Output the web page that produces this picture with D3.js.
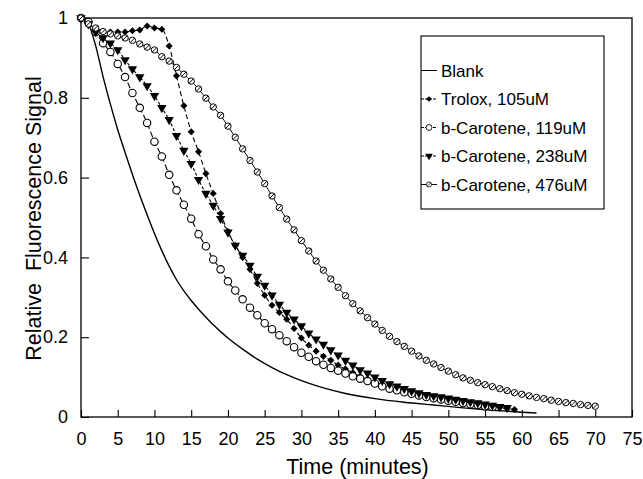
<!DOCTYPE html>
<html>
<head>
<meta charset="utf-8">
<script src="https://cdn.jsdelivr.net/npm/d3@7"></script>
<style>
  body { margin: 0; background: #fff; }
  svg { display: block; font-family: "Liberation Sans", Arial, sans-serif; }
</style>
</head>
<body>
<svg id="chart" width="643" height="479"></svg>
<script>
// ---- data ----
const xTicks = [0, 5, 10, 15, 20, 25, 30, 35, 40, 45, 50, 55, 60, 65, 70, 75];
const yTicks = [0, 0.2, 0.4, 0.6, 0.8, 1];
const yTickLabels = ['0', '0.2', '0.4', '0.6', '0.8', '1'];

// blank: continuous trace, irregular sampling (minutes)
const blankT = [0, 1, 2, 3, 4, 5, 6, 7, 8, 9, 10, 11, 12, 13, 14, 15, 16, 17, 18, 19, 20, 22, 24, 26, 28, 30, 33, 36, 40, 44, 48, 52, 56, 60, 62];
const blankV = [1, 0.985, 0.93, 0.853, 0.784, 0.72, 0.663, 0.608, 0.556, 0.507, 0.46, 0.417, 0.378, 0.344, 0.316, 0.292, 0.27, 0.25, 0.231, 0.214, 0.198, 0.17, 0.145, 0.124, 0.106, 0.091, 0.073, 0.059, 0.046, 0.037, 0.03, 0.023, 0.017, 0.012, 0.01];

// the other traces are sampled once a minute from t = 0
const troloxV = [1, 0.985, 0.97, 0.965, 0.965, 0.965, 0.965, 0.968, 0.97, 0.98, 0.975, 0.972,
  0.93, 0.855, 0.78, 0.715, 0.665, 0.61, 0.56, 0.51, 0.465, 0.43, 0.4, 0.37, 0.335, 0.305, 0.28, 0.262,
  0.245, 0.222, 0.198, 0.18, 0.165, 0.152, 0.142, 0.13, 0.12, 0.111, 0.102, 0.094, 0.087, 0.08, 0.074,
  0.068, 0.063, 0.057, 0.053, 0.049, 0.045, 0.042, 0.039, 0.037, 0.035, 0.033, 0.031, 0.029, 0.027,
  0.024, 0.021, 0.019];
const caro119V = [1, 0.99, 0.965, 0.937, 0.915, 0.885, 0.852, 0.812, 0.775, 0.737, 0.69, 0.653, 0.607,
  0.568, 0.532, 0.497, 0.458, 0.428, 0.395, 0.37, 0.34, 0.317, 0.295, 0.274, 0.255, 0.235, 0.22, 0.205,
  0.19, 0.175, 0.161, 0.151, 0.14, 0.131, 0.123, 0.116, 0.109, 0.102, 0.096, 0.09, 0.084, 0.077, 0.071,
  0.067, 0.062, 0.058, 0.054, 0.05, 0.047, 0.044, 0.041, 0.038, 0.035, 0.032, 0.03, 0.027, 0.025];
const caro238V = [1, 0.985, 0.965, 0.95, 0.937, 0.92, 0.895, 0.872, 0.852, 0.83, 0.805, 0.775, 0.745,
  0.705, 0.668, 0.635, 0.595, 0.56, 0.53, 0.497, 0.463, 0.43, 0.405, 0.38, 0.352, 0.33, 0.305, 0.282,
  0.262, 0.245, 0.228, 0.21, 0.195, 0.182, 0.168, 0.155, 0.142, 0.13, 0.118, 0.11, 0.1, 0.091, 0.083,
  0.077, 0.071, 0.065, 0.06, 0.056, 0.053, 0.05, 0.047, 0.044, 0.041, 0.038, 0.035, 0.032, 0.029,
  0.026, 0.023];
const caro476V = [1, 0.985, 0.975, 0.966, 0.96, 0.955, 0.95, 0.944, 0.935, 0.927, 0.92, 0.903, 0.892,
  0.876, 0.859, 0.842, 0.822, 0.799, 0.777, 0.756, 0.729, 0.701, 0.672, 0.643, 0.614, 0.585, 0.554,
  0.525, 0.496, 0.469, 0.442, 0.416, 0.391, 0.368, 0.346, 0.325, 0.304, 0.284, 0.266, 0.249, 0.233,
  0.217, 0.202, 0.189, 0.177, 0.165, 0.153, 0.142, 0.133, 0.124, 0.115, 0.106, 0.098, 0.092, 0.086,
  0.081, 0.076, 0.071, 0.066, 0.061, 0.057, 0.053, 0.049, 0.046, 0.042, 0.039, 0.036, 0.034, 0.031,
  0.029, 0.027];

const legendLabels = ['Blank', 'Trolox, 105uM', 'b-Carotene, 119uM', 'b-Carotene, 238uM', 'b-Carotene, 476uM'];

// ---- layout ----
const plotL = 81, plotR = 632, plotT = 18, plotB = 417;
const svg = d3.select('#chart');

const x = d3.scaleLinear().domain([0, 75]).range([plotL, plotR]);
const y = d3.scaleLinear().domain([0, 1]).range([plotB, plotT]);

const perMinute = vals => vals.map((v, i) => [i, v]);

const series = [
  { name: legendLabels[0], pts: blankT.map((t, i) => [t, blankV[i]]), dash: null, marker: null, width: 1.4 },
  { name: legendLabels[1], pts: perMinute(troloxV), dash: '5,3', marker: 'diamond', width: 1.1 },
  { name: legendLabels[2], pts: perMinute(caro119V), dash: '6,3', marker: 'circle', width: 1.1 },
  { name: legendLabels[3], pts: perMinute(caro238V), dash: '3,2', marker: 'triangle', width: 1.1 },
  { name: legendLabels[4], pts: perMinute(caro476V), dash: null, marker: 'hatched', width: 1 }
];

// frame
svg.append('rect')
  .attr('x', plotL).attr('y', plotT)
  .attr('width', plotR - plotL).attr('height', plotB - plotT)
  .attr('fill', 'none').attr('stroke', '#000').attr('stroke-width', 1.3);

// axes with inward ticks
const xAxis = svg.append('g').attr('transform', `translate(0,${plotB})`)
  .call(d3.axisBottom(x).tickValues(xTicks).tickSize(-7).tickPadding(15));
const yAxis = svg.append('g').attr('transform', `translate(${plotL},0)`)
  .call(d3.axisLeft(y).tickValues(yTicks).tickSize(-8).tickPadding(13)
    .tickFormat((d, i) => yTickLabels[i]));
[xAxis, yAxis].forEach(g => {
  g.select('.domain').remove();
  g.selectAll('.tick line').attr('stroke', '#000').attr('stroke-width', 1.1);
  g.selectAll('.tick text').attr('font-size', 18).attr('fill', '#000')
    .attr('font-family', '"Liberation Sans", Arial, sans-serif');
});

// axis titles
svg.append('text')
  .attr('x', (plotL + plotR) / 2 + 1).attr('y', 474)
  .attr('text-anchor', 'middle').attr('font-size', 21.5)
  .text('Time (minutes)');
svg.append('text')
  .attr('transform', `translate(41,${(plotT + plotB) / 2 + 1}) rotate(-90)`)
  .attr('text-anchor', 'middle').attr('font-size', 21.5)
  .attr('xml:space', 'preserve')
  .text('Relative  Fluorescence Signal');

// markers
function drawMarker(g, kind) {
  if (kind === 'diamond') {
    g.append('path').attr('d', d3.symbol(d3.symbolDiamond2, 32)()).attr('fill', '#000');
  } else if (kind === 'triangle') {
    g.append('path').attr('d', d3.symbol(d3.symbolTriangle, 38)())
      .attr('transform', 'rotate(180)').attr('fill', '#000');
  } else if (kind === 'circle') {
    g.append('circle').attr('r', 3.7).attr('fill', '#fff').attr('stroke', '#000').attr('stroke-width', 1.1);
  } else if (kind === 'hatched') {
    g.append('circle').attr('r', 3.2).attr('fill', '#fff').attr('stroke', '#000').attr('stroke-width', 1);
    g.append('line').attr('x1', -2.2).attr('y1', 2.2).attr('x2', 2.2).attr('y2', -2.2)
      .attr('stroke', '#000').attr('stroke-width', 1);
  }
}

const lineGen = d3.line().x(d => x(d[0])).y(d => y(d[1])).curve(d3.curveMonotoneX);

series.forEach(s => {
  svg.append('path')
    .attr('d', lineGen(s.pts))
    .attr('fill', 'none').attr('stroke', '#000')
    .attr('stroke-width', s.width)
    .attr('stroke-dasharray', s.dash);
  if (s.marker) {
    svg.append('g').selectAll('g').data(s.pts).join('g')
      .attr('transform', d => `translate(${x(d[0])},${y(d[1])})`)
      .each(function() { drawMarker(d3.select(this), s.marker); });
  }
});

// legend
const lg = svg.append('g');
lg.append('rect').attr('x', 421).attr('y', 36).attr('width', 183).attr('height', 173)
  .attr('fill', '#fff').attr('stroke', '#000').attr('stroke-width', 1.1);
series.forEach((s, i) => {
  const ly = 70.5 + i * 28.5;
  lg.append('line').attr('x1', 421).attr('x2', 437).attr('y1', ly).attr('y2', ly)
    .attr('stroke', '#000').attr('stroke-width', 1).attr('stroke-dasharray', s.dash ? '3,1' : null);
  if (s.marker) drawMarker(lg.append('g').attr('transform', `translate(429,${ly}) scale(0.8)`), s.marker);
  lg.append('text').attr('x', 441).attr('y', ly + 6).attr('font-size', 17).text(s.name);
});
</script>
</body>
</html>
